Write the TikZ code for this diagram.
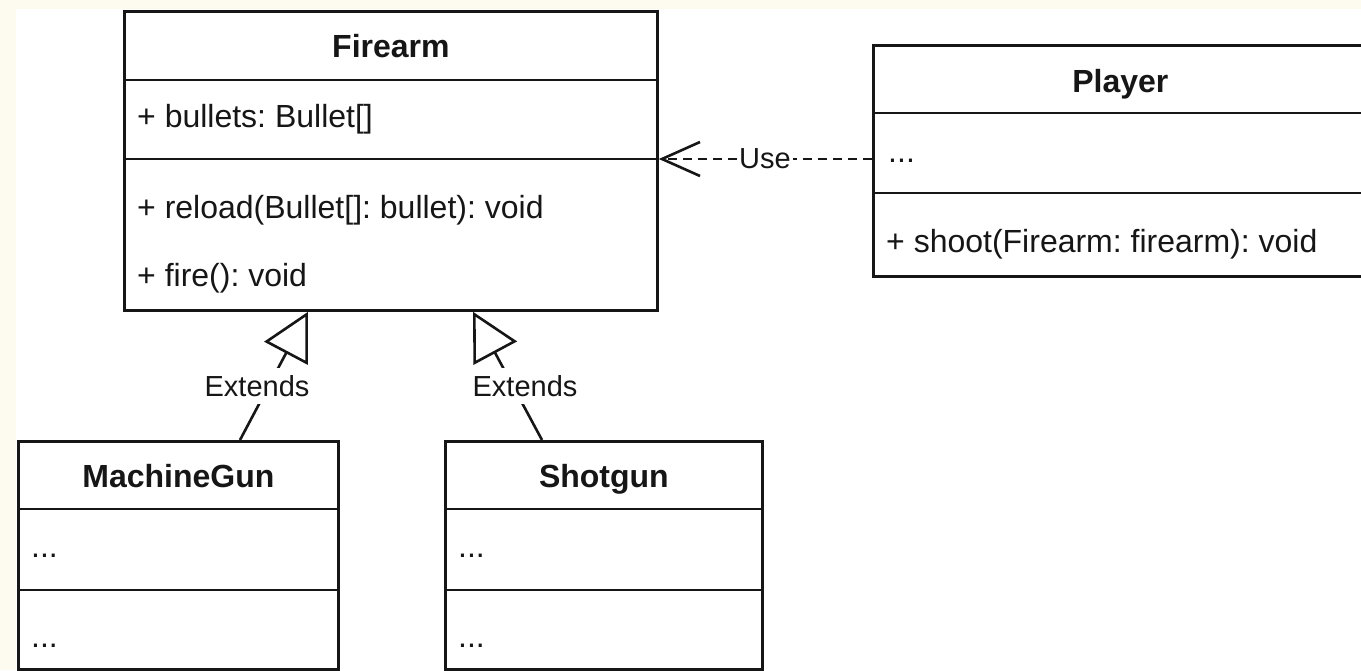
\documentclass[tikz,border=0pt]{standalone}
\usepackage{fontspec}
\setmainfont{Liberation Sans}
\frenchspacing
\usetikzlibrary{arrows.meta,calc}
\definecolor{page}{RGB}{253,250,240}
\definecolor{ink}{RGB}{22,22,22}
\tikzset{
  classbox/.style={draw=ink, fill=white, line width=2.8pt, anchor=north west, inner sep=0pt},
  divider/.style={draw=ink, line width=2.8pt},
  member/.style={anchor=base west, inner sep=0pt, text=ink, font=\fontsize{32}{36}\selectfont},
  classname/.style={anchor=base, inner sep=0pt, text=ink, font=\fontsize{32}{36}\selectfont\bfseries},
  edgelabel/.style={fill=white, text=ink, inner xsep=2pt, inner ysep=7pt, font=\fontsize{29}{34}\selectfont},
  extends/.style={draw=ink, line width=2.6pt, -{Triangle[open, length=47pt, width=49pt]}},
  uses/.style={draw=ink, line width=2.6pt, dash pattern=on 9pt off 6pt, -{Straight Barb[length=38pt, width=34pt]}},
}
\begin{document}
\begin{tikzpicture}[x=1pt, y=-1pt]
  \clip (0,0) rectangle (1361,670);
  \fill[page] (0,0) rectangle (1361,670);
  \fill[white] (16,9) rectangle (1361,670);

  % Firearm
  \node[classbox, minimum width=533pt, minimum height=299pt] (fa) at (123,10) {};
  \draw[divider] ($(fa.north west)+(0,70)$) -- ($(fa.north east)+(0,70)$);
  \draw[divider] ($(fa.north west)+(0,149)$) -- ($(fa.north east)+(0,149)$);
  \node[classname] (fa-name) at ($(fa.north)+(0,47)$) {Firearm};
  \node[member] (fa-a1) at ($(fa.north west)+(14,117)$) {+ bullets: Bullet[]};
  \node[member] (fa-o1) at ($(fa.north west)+(14,208)$) {+ reload(Bullet[]: bullet): void};
  \node[member] (fa-o2) at ($(fa.north west)+(14,276)$) {+ fire(): void};

  % Player
  \node[classbox, minimum width=494pt, minimum height=231pt] (pl) at (872,44) {};
  \draw[divider] ($(pl.north west)+(0,69)$) -- ($(pl.north east)+(0,69)$);
  \draw[divider] ($(pl.north west)+(0,149)$) -- ($(pl.north east)+(0,149)$);
  \node[classname] (pl-name) at ($(pl.north)+(0,48)$) {Player};
  \node[member] (pl-a1) at ($(pl.north west)+(16,118)$) {...};
  \node[member] (pl-o1) at ($(pl.north west)+(14,208)$) {+ shoot(Firearm: firearm): void};

  % MachineGun
  \node[classbox, minimum width=320pt, minimum height=228pt] (mg) at (17,440) {};
  \draw[divider] ($(mg.north west)+(0,69)$) -- ($(mg.north east)+(0,69)$);
  \draw[divider] ($(mg.north west)+(0,150)$) -- ($(mg.north east)+(0,150)$);
  \node[classname] (mg-name) at ($(mg.north)+(0,47)$) {MachineGun};
  \node[member] (mg-a1) at ($(mg.north west)+(14,117)$) {...};
  \node[member] (mg-o1) at ($(mg.north west)+(14,207)$) {...};

  % Shotgun
  \node[classbox, minimum width=317pt, minimum height=228pt] (sg) at (444,440) {};
  \draw[divider] ($(sg.north west)+(0,69)$) -- ($(sg.north east)+(0,69)$);
  \draw[divider] ($(sg.north west)+(0,150)$) -- ($(sg.north east)+(0,150)$);
  \node[classname] (sg-name) at ($(sg.north)+(0,47)$) {Shotgun};
  \node[member] (sg-a1) at ($(sg.north west)+(14,117)$) {...};
  \node[member] (sg-o1) at ($(sg.north west)+(14,207)$) {...};

  % Generalisation edges
  \coordinate (mg-up) at ($(mg.north west)+(223,0)$);
  \coordinate (fa-in1) at ($(fa.south west)+(185,0)$);
  \coordinate (sg-up) at ($(sg.north west)+(98,0)$);
  \coordinate (fa-in2) at ($(fa.south west)+(350,0)$);
  \draw[extends] (mg-up) -- (fa-in1);
  \draw[extends] (sg-up) -- (fa-in2);
  \node[edgelabel] (ext1) at (257,386) {Extends};
  \node[edgelabel] (ext2) at (525,386) {Extends};

  % Dependency edge
  \coordinate (pl-out) at ($(pl.north west)+(0,115)$);
  \coordinate (fa-in3) at ($(fa.north east)+(0,149)$);
  \draw[uses] (pl-out) -- (fa-in3);
  \node[edgelabel] (use) at (765,159) {Use};
\end{tikzpicture}
\end{document}
